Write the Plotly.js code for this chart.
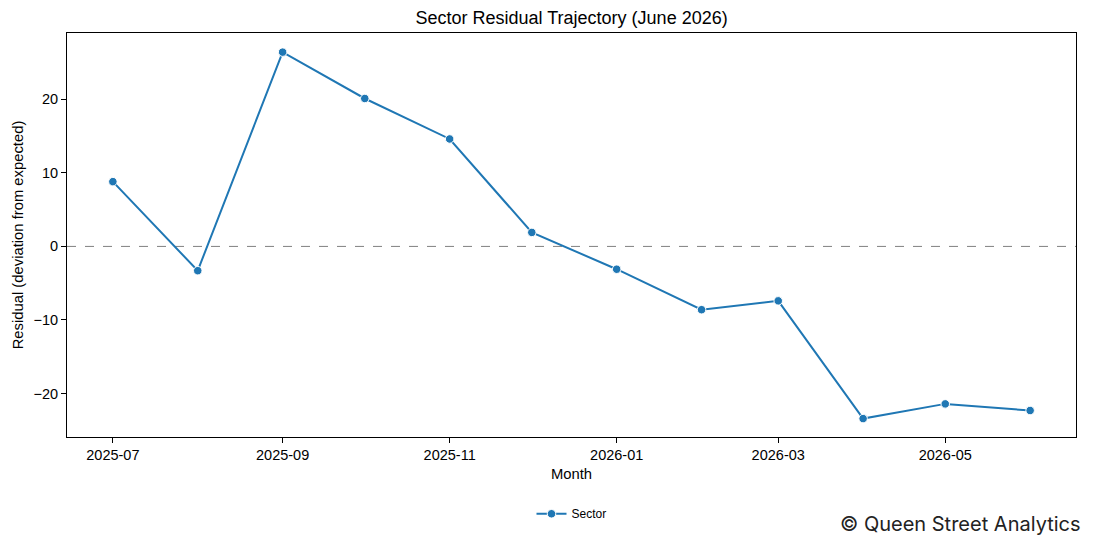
<!DOCTYPE html>
<html>
<head>
<meta charset="utf-8">
<script src="https://cdn.plot.ly/plotly-3.0.1.min.js"></script>
<style>
  html, body { margin: 0; padding: 0; background: #ffffff; }
  #chart { width: 1094px; height: 546px; }
</style>
</head>
<body>
<div id="chart"></div>
<script>
// Monthly sector residuals (deviation from expected)
const months = ["2025-07-01", "2025-08-01", "2025-09-01", "2025-10-01", "2025-11-01", "2025-12-01",
                "2026-01-01", "2026-02-01", "2026-03-01", "2026-04-01", "2026-05-01", "2026-06-01"];
const residuals = [8.8, -3.3, 26.4, 20.1, 14.6, 1.9, -3.1, -8.6, -7.4, -23.4, -21.4, -22.3];
const seriesName = "Sector";

const tickMonths = ["2025-07-01", "2025-09-01", "2025-11-01", "2026-01-01", "2026-03-01", "2026-05-01"];
const tickLabels = ["2025-07", "2025-09", "2025-11", "2026-01", "2026-03", "2026-05"];

const blue = "#1f77b4";
const baseFont = { family: "Liberation Sans, Arial, sans-serif", color: "#000000" };

const trace = {
  x: months,
  y: residuals,
  name: seriesName,
  type: "scatter",
  mode: "lines+markers",
  line: { color: blue, width: 2 },
  marker: { color: blue, size: 8.5, line: { color: "#ffffff", width: 1 } },
  showlegend: true
};

const layout = {
  width: 1094,
  height: 546,
  paper_bgcolor: "#ffffff",
  plot_bgcolor: "#ffffff",
  margin: { l: 67, r: 18, t: 33, b: 109 },
  font: Object.assign({ size: 14.5 }, baseFont),
  title: {
    text: "Sector Residual Trajectory (June 2026)",
    font: Object.assign({ size: 18 }, baseFont),
    x: 0.5225, xanchor: "center",
    y: 0.967, yanchor: "middle"
  },
  xaxis: {
    type: "date",
    range: ["2025-06-14 06:00", "2026-06-17 18:00"],
    tickvals: tickMonths,
    ticktext: tickLabels,
    ticks: "outside", ticklen: 5, tickwidth: 1, tickcolor: "#000",
    showline: true, linecolor: "#000", linewidth: 1, mirror: true,
    showgrid: false, zeroline: false,
    tickfont: Object.assign({ size: 14.5 }, baseFont),
    title: { text: "Month", font: Object.assign({ size: 14.8 }, baseFont), standoff: 6 }
  },
  yaxis: {
    range: [-25.9, 29.0],
    tickvals: [-20, -10, 0, 10, 20],
    ticks: "outside", ticklen: 5, tickwidth: 1, tickcolor: "#000",
    showline: true, linecolor: "#000", linewidth: 1, mirror: true,
    showgrid: false, zeroline: false,
    tickfont: Object.assign({ size: 14.5 }, baseFont),
    title: { text: "Residual (deviation from expected)", font: Object.assign({ size: 14.8 }, baseFont), standoff: 6 }
  },
  shapes: [{
    type: "line", xref: "paper", x0: 0, x1: 1, yref: "y", y0: 0, y1: 0,
    line: { color: "#808080", width: 1, dash: "dash" },
    layer: "below"
  }],
  legend: {
    orientation: "h",
    x: 0.5, xanchor: "center",
    y: -0.19, yanchor: "middle",
    font: Object.assign({ size: 12 }, baseFont),
    bgcolor: "rgba(0,0,0,0)"
  },
  annotations: [{
    text: "© Queen Street Analytics",
    xref: "paper", yref: "paper",
    x: 1.0065, xanchor: "right",
    y: -0.215, yanchor: "middle",
    showarrow: false,
    font: { family: "Inter, DejaVu Sans, sans-serif", size: 20, color: "#222222" }
  }]
};

Plotly.newPlot("chart", [trace], layout, { displayModeBar: false, staticPlot: true });
</script>
</body>
</html>
